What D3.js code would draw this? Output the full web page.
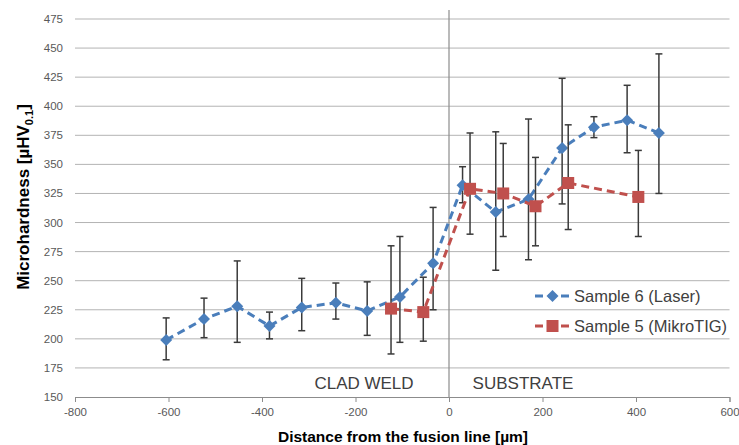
<!DOCTYPE html>
<html>
<head>
<meta charset="utf-8">
<script src="https://cdn.jsdelivr.net/npm/d3@7"></script>
<style>
  body { margin: 0; background: #fff; }
  svg { display: block; font-family: "Liberation Sans", Arial, sans-serif; }
</style>
</head>
<body>
<script>
// Sample 6 (Laser)
var laserX  = [-605, -524, -453, -384, -315, -242, -175, -105, -34, 29, 100, 170, 242, 310, 381, 449];
var laserY  = [199, 217, 228, 211, 227, 231, 224, 236, 265, 332, 309, 320, 364, 382, 388, 377];
var laserHi = [218, 235, 267, 223, 252, 248, 249, 288, 313, 348, 378, 389, 424, 391, 418, 445];
var laserLo = [182, 201, 197, 200, 207, 217, 203, 197, 225, 317, 259, 268, 316, 373, 360, 325];

// Sample 5 (MikroTIG)
var tigX  = [-124, -55, 45, 116, 185, 255, 405];
var tigY  = [226, 223, 329, 325, 314, 334, 322];
var tigHi = [280, 253, 377, 368, 356, 384, 362];
var tigLo = [187, 198, 290, 288, 280, 294, 288];

var xTicks = [-800, -600, -400, -200, 0, 200, 400, 600];
var yTicks = [150, 175, 200, 225, 250, 275, 300, 325, 350, 375, 400, 425, 450, 475];

var width = 739, height = 445;
var x = d3.scaleLinear().domain([-800, 600]).range([75, 729.5]);
var y = d3.scaleLinear().domain([150, 475]).range([397, 19]);

var svg = d3.select('body').append('svg')
  .attr('width', width)
  .attr('height', height);

// horizontal gridlines
svg.append('g').selectAll('line')
  .data(yTicks.slice(1))
  .enter().append('line')
    .attr('x1', x(-800)).attr('x2', x(600))
    .attr('y1', function(d) { return y(d); })
    .attr('y2', function(d) { return y(d); })
    .attr('stroke', '#b3b3b3')
    .attr('stroke-width', 1);

// y tick labels
svg.append('g').selectAll('text')
  .data(yTicks)
  .enter().append('text')
    .attr('x', 63)
    .attr('y', function(d) { return y(d); })
    .attr('dy', '0.35em')
    .attr('text-anchor', 'end')
    .attr('font-size', '11.5px')
    .attr('fill', '#595959')
    .text(function(d) { return d; });

// bottom axis
var xAxis = svg.append('g')
  .attr('transform', 'translate(0,' + y(150) + ')')
  .call(d3.axisBottom(x).tickValues(xTicks).tickSize(5).tickPadding(6)
    .tickFormat(function(d) { return String(d); }));
xAxis.select('.domain').attr('stroke', '#8c8c8c');
xAxis.selectAll('.tick line').attr('stroke', '#8c8c8c');
xAxis.selectAll('.tick text')
  .attr('font-family', '"Liberation Sans", Arial, sans-serif')
  .attr('font-size', '11.5px')
  .attr('fill', '#595959');

// fusion line
svg.append('line')
  .attr('x1', x(0)).attr('x2', x(0))
  .attr('y1', 10).attr('y2', y(150))
  .attr('stroke', '#8c8c8c')
  .attr('stroke-width', 1.2);

svg.append('text')
  .attr('x', 364).attr('y', 389)
  .attr('text-anchor', 'middle')
  .attr('font-size', '17px')
  .attr('fill', '#404040')
  .text('CLAD WELD');
svg.append('text')
  .attr('x', 523).attr('y', 389)
  .attr('text-anchor', 'middle')
  .attr('font-size', '17px')
  .attr('fill', '#404040')
  .text('SUBSTRATE');

// axis titles
svg.append('text')
  .attr('x', 403).attr('y', 442)
  .attr('text-anchor', 'middle')
  .attr('font-weight', 'bold')
  .attr('font-size', '15.5px')
  .attr('fill', '#000')
  .text('Distance from the fusion line [µm]');

var yTitle = svg.append('text')
  .attr('transform', 'translate(29,197) rotate(-90)')
  .attr('text-anchor', 'middle')
  .attr('font-weight', 'bold')
  .attr('font-size', '17px')
  .attr('fill', '#000');
yTitle.append('tspan').text('Microhardness [µHV');
yTitle.append('tspan').attr('font-size', '11px').attr('dy', 4).text('0.1');
yTitle.append('tspan').attr('dy', -4).text(']');

function rows(xs, ys, his, los) {
  return xs.map(function(v, i) { return {x: v, y: ys[i], hi: his[i], lo: los[i]}; });
}

var series = [
  {name: 'Sample 6 (Laser)', color: '#4a7ebb', marker: 'diamond', data: rows(laserX, laserY, laserHi, laserLo)},
  {name: 'Sample 5 (MikroTIG)', color: '#c0504d', marker: 'square', data: rows(tigX, tigY, tigHi, tigLo)}
];

var line = d3.line()
  .x(function(d) { return x(d.x); })
  .y(function(d) { return y(d.y); });

function drawMarker(g, s, cx, cy) {
  if (s.marker === 'diamond') {
    g.append('path')
      .attr('d', 'M' + cx + ',' + (cy - 6) + 'L' + (cx + 6) + ',' + cy + 'L' + cx + ',' + (cy + 6) + 'L' + (cx - 6) + ',' + cy + 'Z')
      .attr('fill', s.color);
  } else {
    g.append('rect')
      .attr('x', cx - 6).attr('y', cy - 6)
      .attr('width', 12).attr('height', 12)
      .attr('fill', s.color);
  }
}

series.forEach(function(s) {
  var g = svg.append('g');
  // error bars
  s.data.forEach(function(d) {
    var px = x(d.x);
    g.append('line')
      .attr('x1', px).attr('x2', px)
      .attr('y1', y(d.hi)).attr('y2', y(d.lo))
      .attr('stroke', '#3a3a3a').attr('stroke-width', 1.5);
    [d.hi, d.lo].forEach(function(v) {
      g.append('line')
        .attr('x1', px - 3.5).attr('x2', px + 3.5)
        .attr('y1', y(v)).attr('y2', y(v))
        .attr('stroke', '#3a3a3a').attr('stroke-width', 1.5);
    });
  });
  g.append('path')
    .datum(s.data)
    .attr('d', line)
    .attr('fill', 'none')
    .attr('stroke', s.color)
    .attr('stroke-width', 3)
    .attr('stroke-dasharray', '8,5');
  s.data.forEach(function(d) {
    drawMarker(g, s, x(d.x), y(d.y));
  });
});

// legend
var legend = svg.append('g');
series.forEach(function(s, i) {
  var ly = 296 + i * 30;
  legend.append('line')
    .attr('x1', 535).attr('x2', 570)
    .attr('y1', ly).attr('y2', ly)
    .attr('stroke', s.color)
    .attr('stroke-width', 3)
    .attr('stroke-dasharray', '8,5');
  drawMarker(legend, s, 552.5, ly);
  legend.append('text')
    .attr('x', 574).attr('y', ly)
    .attr('dy', '0.35em')
    .attr('font-size', '16.5px')
    .attr('fill', '#404040')
    .text(s.name);
});
</script>
</body>
</html>
